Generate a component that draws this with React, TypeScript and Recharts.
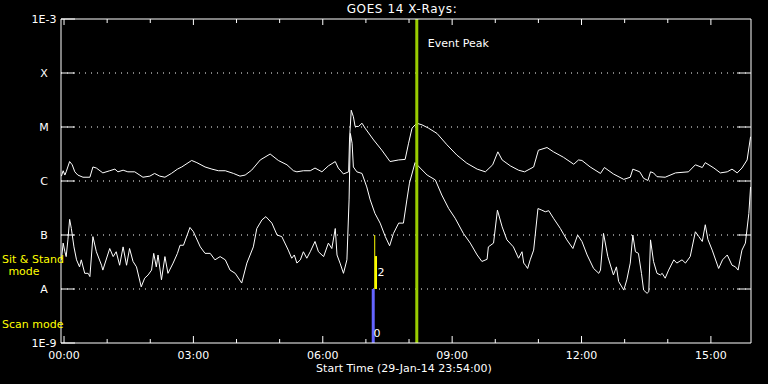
import { LineChart, Line, XAxis, YAxis, ReferenceLine } from 'recharts';

// GOES 14 X-ray flux, log10(W/m^2), hours from 00:00 on 30-Jan-14.
// Long channel (1-8 Å) – upper trace.
const LONG: [number, number][] = [
  [-0.06, -5.91], [-0.02, -5.81], [0.02, -5.89], [0.05, -5.83], [0.13, -5.64], [0.19, -5.7],
  [0.25, -5.83], [0.32, -5.89], [0.44, -5.93], [0.6, -5.93], [0.67, -5.74], [0.75, -5.76],
  [0.9, -5.85], [1.06, -5.81], [1.18, -5.78], [1.25, -5.83], [1.37, -5.8], [1.48, -5.83],
  [1.64, -5.83], [1.83, -5.93], [1.99, -5.91], [2.1, -5.86], [2.22, -5.91], [2.34, -5.93],
  [2.49, -5.86], [2.63, -5.78], [2.73, -5.74], [2.96, -5.62], [3.08, -5.66], [3.27, -5.74],
  [3.43, -5.78], [3.58, -5.81], [3.74, -5.81], [3.93, -5.86], [4.08, -5.91], [4.2, -5.89],
  [4.35, -5.8], [4.55, -5.61], [4.78, -5.5], [4.97, -5.62], [5.17, -5.7], [5.32, -5.81],
  [5.4, -5.83], [5.55, -5.81], [5.71, -5.81], [5.82, -5.76], [5.98, -5.83], [6.13, -5.72],
  [6.29, -5.64], [6.36, -5.76], [6.48, -5.87], [6.6, -5.83], [6.62, -5.24], [6.66, -4.69],
  [6.71, -4.81], [6.75, -4.99], [6.83, -4.99], [6.91, -4.93], [6.98, -5.02], [7.18, -5.24],
  [7.37, -5.43], [7.56, -5.64], [7.76, -5.61], [7.91, -5.6], [7.99, -5.3], [8.07, -5.02],
  [8.18, -4.93], [8.3, -4.96], [8.45, -5.02], [8.65, -5.12], [8.88, -5.33], [9.11, -5.52],
  [9.34, -5.67], [9.58, -5.78], [9.77, -5.83], [9.94, -5.7], [10.06, -5.46], [10.16, -5.61],
  [10.35, -5.72], [10.54, -5.8], [10.68, -5.83], [10.89, -5.74], [11.0, -5.43], [11.2, -5.38],
  [11.35, -5.46], [11.58, -5.56], [11.82, -5.69], [11.93, -5.61], [12.01, -5.62], [12.2, -5.74],
  [12.44, -5.86], [12.53, -5.75], [12.74, -5.87], [12.98, -5.97], [13.13, -5.93], [13.19, -5.78],
  [13.35, -5.83], [13.44, -5.95], [13.54, -5.99], [13.6, -5.83], [13.67, -5.85], [13.75, -5.92],
  [13.94, -5.93], [14.18, -5.85], [14.48, -5.83], [14.64, -5.7], [14.8, -5.75], [14.87, -5.66],
  [15.07, -5.76], [15.22, -5.85], [15.38, -5.83], [15.49, -5.78], [15.61, -5.85], [15.72, -5.76],
  [15.84, -5.61], [15.92, -5.18],
];

// Short channel (0.5-4 Å) – lower trace.
const SHORT: [number, number][] = [
  [-0.06, -7.46], [-0.02, -7.15], [0.02, -7.31], [0.05, -7.4], [0.09, -7.09], [0.13, -6.71],
  [0.17, -6.88], [0.23, -7.22], [0.29, -7.46], [0.36, -7.59], [0.4, -7.46], [0.48, -7.71],
  [0.56, -7.71], [0.6, -7.77], [0.67, -7.03], [0.75, -7.31], [0.87, -7.56], [0.9, -7.65],
  [1.06, -7.25], [1.14, -7.4], [1.21, -7.31], [1.29, -7.56], [1.37, -7.22], [1.45, -7.56],
  [1.52, -7.25], [1.6, -7.49], [1.68, -7.59], [1.79, -7.96], [1.87, -7.8], [1.95, -7.74],
  [2.03, -7.65], [2.08, -7.34], [2.14, -7.59], [2.18, -7.37], [2.26, -7.83], [2.34, -7.4],
  [2.41, -7.71], [2.53, -7.52], [2.63, -7.34], [2.69, -7.19], [2.77, -7.19], [2.92, -6.86],
  [3.0, -6.94], [3.16, -7.22], [3.27, -7.34], [3.39, -7.34], [3.5, -7.46], [3.62, -7.4],
  [3.74, -7.46], [3.85, -7.65], [3.97, -7.71], [4.12, -7.89], [4.24, -7.52], [4.39, -7.22],
  [4.47, -6.88], [4.59, -6.72], [4.68, -6.66], [4.82, -6.78], [4.94, -7.0], [5.05, -7.03],
  [5.2, -7.28], [5.28, -7.43], [5.34, -7.37], [5.4, -7.52], [5.48, -7.46], [5.55, -7.31],
  [5.63, -7.43], [5.71, -7.31], [5.82, -7.12], [5.9, -7.31], [6.02, -7.4], [6.13, -7.15],
  [6.21, -7.25], [6.29, -6.88], [6.33, -7.37], [6.4, -7.52], [6.48, -7.71], [6.56, -7.46],
  [6.61, -6.35], [6.64, -5.12], [6.68, -5.3], [6.71, -5.74], [6.79, -5.83], [6.91, -5.86],
  [7.02, -6.11], [7.1, -6.35], [7.21, -6.6], [7.33, -6.78], [7.45, -7.03], [7.55, -7.2],
  [7.64, -6.97], [7.76, -6.78], [7.87, -6.78], [7.95, -6.35], [8.01, -6.04], [8.14, -5.66],
  [8.26, -5.76], [8.42, -5.89], [8.61, -5.98], [8.76, -6.26], [8.92, -6.51], [9.07, -6.69],
  [9.26, -6.97], [9.42, -7.15], [9.58, -7.37], [9.69, -7.49], [9.81, -7.45], [9.84, -7.22],
  [9.96, -7.15], [10.05, -6.54], [10.16, -6.85], [10.27, -7.09], [10.42, -7.22], [10.54, -7.43],
  [10.62, -7.31], [10.66, -7.52], [10.7, -7.56], [10.75, -7.62], [10.81, -7.46], [10.89, -7.28],
  [10.99, -6.51], [11.08, -6.54], [11.16, -6.57], [11.24, -6.55], [11.35, -6.69], [11.51, -6.88],
  [11.66, -7.09], [11.8, -7.25], [11.91, -7.0], [12.01, -7.12], [12.13, -7.37], [12.28, -7.62],
  [12.4, -7.71], [12.44, -7.65], [12.51, -6.97], [12.61, -7.4], [12.74, -7.74], [12.81, -7.59],
  [12.86, -7.86], [12.98, -8.02], [13.05, -7.83], [13.13, -7.52], [13.19, -7.0], [13.25, -7.31],
  [13.32, -7.34], [13.39, -7.71], [13.44, -8.02], [13.52, -8.08], [13.56, -8.05], [13.6, -7.09],
  [13.67, -7.49], [13.75, -7.71], [13.83, -7.74], [13.87, -7.71], [13.94, -7.8], [14.02, -7.65],
  [14.14, -7.46], [14.21, -7.52], [14.33, -7.46], [14.41, -7.52], [14.52, -7.4], [14.64, -6.94],
  [14.72, -7.03], [14.8, -7.12], [14.87, -6.81], [14.93, -7.08], [15.03, -7.28], [15.18, -7.62],
  [15.27, -7.46], [15.38, -7.37], [15.49, -7.56], [15.57, -7.59], [15.63, -7.65], [15.72, -7.28],
  [15.8, -7.15], [15.88, -6.6], [15.92, -6.11],
];

const HOUR_TICKS = [0, 1, 2, 3, 4, 5, 6, 7, 8, 9, 10, 11, 12, 13, 14, 15];
const HOUR_LABELS: Record<number, string> = {
  0: '00:00', 3: '03:00', 6: '06:00', 9: '09:00', 12: '12:00', 15: '15:00',
};
const DECADES = [-9, -8, -7, -6, -5, -4, -3];
const DECADE_LABELS = ['1E-9', 'A', 'B', 'C', 'M', 'X', '1E-3'];
const GRID_LEVELS = [-8, -7, -6, -5, -4];

const EVENT_PEAK = 8.18;
// Instrument mode markers: [time, from, to]
const SCAN_MODE: [number, number, number] = [7.17, -9, -8];
const SIT_STARE: [number, number, number] = [7.235, -8, -7.39];
const SIT_STARE_THIN: [number, number, number] = [7.205, -8, -7];

const X_DOMAIN: [number, number] = [-0.07, 15.93];
const Y_DOMAIN: [number, number] = [-9, -3];
const FONT = 'DejaVu Sans';

const toRows = (pts: [number, number][]) => pts.map(([t, v]) => ({ t, v }));
const bar = ([t, a, b]: [number, number, number]) => [{ t, v: a }, { t, v: b }];

function BottomTick({ x, y, payload }: any) {
  const major = payload.value % 3 === 0;
  return (
    <g>
      <line x1={x} x2={x} y1={y} y2={y - (major ? 7 : 4)} stroke="#fff" />
      {major && (
        <text x={x} y={y + 16} textAnchor="middle" fill="#fff" fontSize={11} fontFamily={FONT}>
          {HOUR_LABELS[payload.value]}
        </text>
      )}
    </g>
  );
}

function TopTick({ x, y, payload }: any) {
  const major = payload.value % 3 === 0;
  return <line x1={x} x2={x} y1={y} y2={y + (major ? 6 : 4)} stroke="#fff" />;
}

function LeftTick({ x, y, payload }: any) {
  const i = DECADES.indexOf(payload.value);
  return (
    <g>
      <line x1={x} x2={x + 14} y1={y} y2={y} stroke="#fff" />
      <text x={44} y={y + 4} textAnchor="middle" fill="#fff" fontSize={11} fontFamily={FONT}>
        {DECADE_LABELS[i]}
      </text>
    </g>
  );
}

function RightTick({ x, y }: any) {
  return <line x1={x} x2={x - 14} y1={y} y2={y} stroke="#fff" />;
}

export default function App() {
  return (
    <div style={{ position: 'fixed', left: 0, top: 0, width: 768, height: 384, background: '#000' }}>
      <LineChart width={768} height={384} margin={{ top: 0, right: 0, bottom: 0, left: 0 }}>
        <XAxis
          xAxisId="b"
          dataKey="t"
          type="number"
          domain={X_DOMAIN}
          allowDataOverflow
          ticks={HOUR_TICKS}
          interval={0}
          height={41}
          tickSize={0}
          tickMargin={0}
          tick={<BottomTick />}
          axisLine={{ stroke: '#fff' }}
          tickLine={false}
        />
        <XAxis
          xAxisId="t"
          orientation="top"
          dataKey="t"
          type="number"
          domain={X_DOMAIN}
          allowDataOverflow
          ticks={HOUR_TICKS}
          interval={0}
          height={19}
          tickSize={0}
          tickMargin={0}
          tick={<TopTick />}
          axisLine={{ stroke: '#fff' }}
          tickLine={false}
        />
        <YAxis
          yAxisId="l"
          type="number"
          domain={Y_DOMAIN}
          allowDataOverflow
          ticks={DECADES}
          interval={0}
          width={61}
          tickSize={0}
          tickMargin={0}
          tick={<LeftTick />}
          axisLine={{ stroke: '#fff' }}
          tickLine={false}
        />
        <YAxis
          yAxisId="r"
          orientation="right"
          type="number"
          domain={Y_DOMAIN}
          allowDataOverflow
          ticks={GRID_LEVELS}
          interval={0}
          width={17}
          tickSize={0}
          tickMargin={0}
          tick={<RightTick />}
          axisLine={{ stroke: '#fff' }}
          tickLine={false}
        />
        {GRID_LEVELS.map((lv) => (
          <ReferenceLine key={lv} xAxisId="b" yAxisId="l" y={lv} stroke="#fff" strokeDasharray="1 5" />
        ))}
        <Line xAxisId="b" yAxisId="l" data={toRows(LONG)} dataKey="v" stroke="#fff" strokeWidth={1}
          dot={false} isAnimationActive={false} />
        <Line xAxisId="b" yAxisId="l" data={toRows(SHORT)} dataKey="v" stroke="#fff" strokeWidth={1}
          dot={false} isAnimationActive={false} />
        <Line xAxisId="b" yAxisId="l" data={bar(SCAN_MODE)} dataKey="v" stroke="#6464ff" strokeWidth={3}
          dot={false} isAnimationActive={false} />
        <Line xAxisId="b" yAxisId="l" data={bar(SIT_STARE_THIN)} dataKey="v" stroke="#ffff00" strokeWidth={1}
          dot={false} isAnimationActive={false} />
        <Line xAxisId="b" yAxisId="l" data={bar(SIT_STARE)} dataKey="v" stroke="#ffff00" strokeWidth={2}
          dot={false} isAnimationActive={false} />
        <ReferenceLine
          xAxisId="b"
          yAxisId="l"
          x={EVENT_PEAK}
          stroke="#99cc00"
          strokeWidth={3}
          label={(p: any) => (
            <text x={p.viewBox.x + 11} y={p.viewBox.y + 28} fill="#fff" fontSize={11} fontFamily={FONT}>
              Event Peak
            </text>
          )}
        />
      </LineChart>
      <svg width={768} height={384} style={{ position: 'absolute', left: 0, top: 0, pointerEvents: 'none' }}>
        <g fontFamily={FONT} fontSize={11}>
          <text x={402} y={13} textAnchor="middle" fill="#fff" fontSize={12} letterSpacing={0.6}>
            GOES 14 X-Rays:
          </text>
          <text x={404} y={372} textAnchor="middle" fill="#fff">Start Time (29-Jan-14 23:54:00)</text>
          <text x={2} y={263} fill="#ffff00">Sit &amp; Stand</text>
          <text x={24} y={275} textAnchor="middle" fill="#ffff00">mode</text>
          <text x={2} y={328} fill="#ffff00">Scan mode</text>
          <text x={377} y={337} textAnchor="middle" fill="#fff">0</text>
          <text x={381} y={276} textAnchor="middle" fill="#fff">2</text>
        </g>
      </svg>
    </div>
  );
}
